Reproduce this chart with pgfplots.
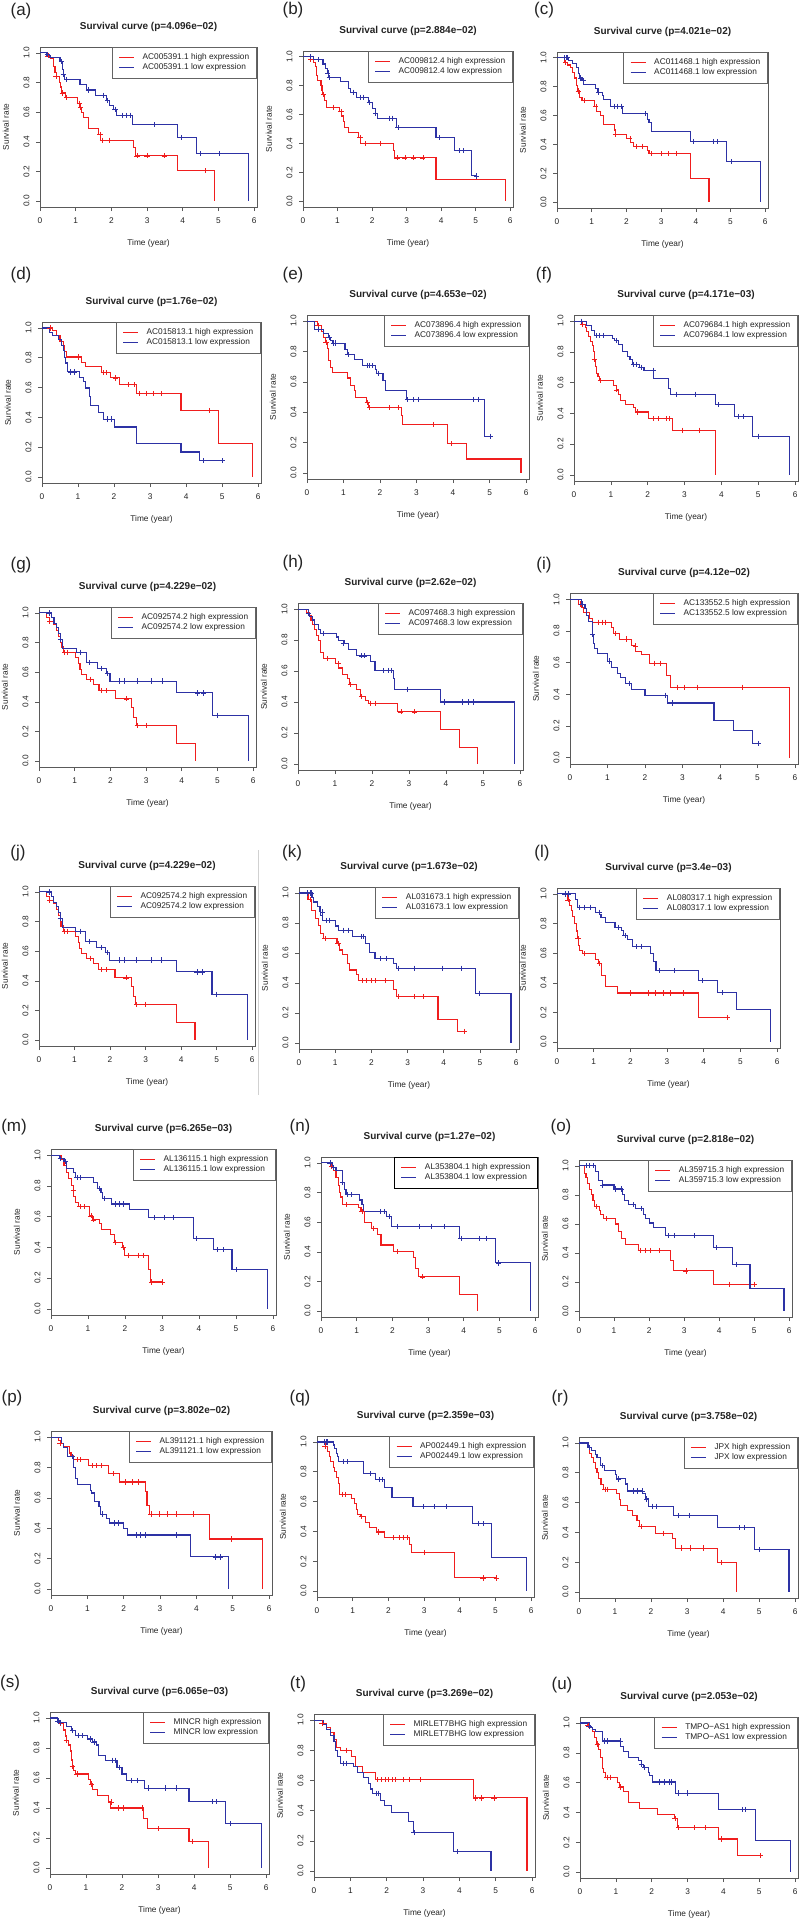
\documentclass[border=0pt]{standalone}
\usepackage{fontspec}
\setmainfont{Liberation Sans}
\usepackage{pgfplots}
\pgfplotsset{compat=1.18}
\definecolor{kmred}{RGB}{240,30,30}
\definecolor{kmblue}{RGB}{45,50,165}
\definecolor{txt}{RGB}{35,35,35}
\definecolor{framegray}{RGB}{90,90,90}
\definecolor{legendgray}{RGB}{100,100,100}
\pgfplotsset{
  km/.style={
    scale only axis, anchor=south west, clip=false,
    xmin=0, xmax=6.08, ymin=-0.04, ymax=1.04,
    xtick={0,1,2,3,4,5,6}, ytick={0,0.2,0.4,0.6,0.8,1.0},
    tick align=outside, tick pos=left, major tick length=4pt,
    axis line style={draw=framegray, line width=0.6pt},
    every tick/.style={draw=framegray, line width=0.6pt},
    /pgf/number format/assume math mode=true,
    tick label style={font=\fontsize{8.3}{9}\selectfont, text=txt},
    xticklabel shift=3pt, yticklabel shift=3pt,
    yticklabel style={rotate=90, anchor=south, /pgf/number format/.cd, fixed, fixed zerofill, precision=1},
    xlabel={Time (year)}, ylabel={Survival rate},
    every axis x label/.style={at={([yshift=-36pt]axis description cs:0.5,0)}, anchor=center, font=\fontsize{8.3}{9}\selectfont, text=txt},
    every axis y label/.style={at={([xshift=-34pt]axis description cs:0,0.5)}, rotate=90, anchor=center, font=\fontsize{8.3}{9}\selectfont, text=txt},
    every axis title/.style={at={([yshift=20pt]axis description cs:0.5,1)}, anchor=center, font=\bfseries\fontsize{10}{12}\selectfont, text=txt},
    legend cell align=left,
    legend style={at={(1,1)}, anchor=north east, draw=legendgray, line width=0.6pt, fill=white,
      font=\fontsize{8.3}{10}\selectfont, text=txt, inner xsep=6.5pt, inner ysep=5.5pt, row sep=0pt,
      nodes={inner sep=1pt, text height=6pt, text depth=1.8pt},
      /tikz/every odd column/.append style={column sep=7pt}},
  },
  hi/.style={const plot, draw=kmred, line width=1.1pt, mark=none,
    legend image code/.code={\draw[kmred, line width=1.1pt] (0pt,0pt) -- (15pt,0pt);}},
  lo/.style={const plot, draw=kmblue, line width=1.1pt, mark=none,
    legend image code/.code={\draw[kmblue, line width=1.1pt] (0pt,0pt) -- (15pt,0pt);}},
  hic/.style={only marks, mark=+, mark size=2.6pt, color=kmred, mark options={line width=0.7pt}, forget plot},
  loc/.style={only marks, mark=+, mark size=2.6pt, color=kmblue, mark options={line width=0.7pt}, forget plot},
}
\newcommand{\plab}[3]{\node[font=\fontsize{17}{17}\selectfont, text=txt] at (#1pt,-#2pt) {(#3)};}
\begin{document}
\begin{tikzpicture}
\useasboundingbox (0pt,0pt) rectangle (800pt,-1921pt);
\draw[black!18, line width=0.6pt] (258pt,-850pt) -- (258pt,-1095pt);
% ---------- row 1
\plab{21}{11}{a}\plab{293}{10}{b}\plab{544}{10}{c}
\begin{axis}[km, at={(40pt,-207pt)}, width=217pt, height=160pt, title={Survival curve (p=4.096e−02)}]
\addplot[hi] coordinates {(0,1) (0.22,0.98) (0.3,0.96) (0.37,0.91) (0.42,0.87) (0.45,0.84) (0.55,0.80) (0.57,0.77) (0.6,0.73) (0.72,0.70) (1.06,0.66) (1.12,0.63) (1.17,0.60) (1.22,0.565) (1.35,0.49) (1.65,0.45) (1.7,0.41) (2.62,0.36) (2.68,0.305) (3.85,0.205) (4.88,0)};
\addplot[lo] coordinates {(0,1) (0.19,0.98) (0.28,0.97) (0.56,0.94) (0.62,0.89) (0.65,0.855) (0.68,0.82) (1.12,0.785) (1.3,0.75) (1.55,0.715) (1.87,0.68) (1.95,0.645) (2.07,0.62) (2.15,0.58) (2.6,0.515) (3.85,0.43) (4.38,0.32) (5.84,0.32) (5.84,0)};
\addplot[hic] coordinates {(0.22,0.98) (0.45,0.84) (0.62,0.73) (0.75,0.70) (1.1,0.66) (1.14,0.63) (1.68,0.45) (1.75,0.41) (1.95,0.41) (2.72,0.305) (3.0,0.305) (3.48,0.305) (4.63,0.205)};
\addplot[loc] coordinates {(0.2,0.99) (0.6,0.94) (0.65,0.855) (0.75,0.82) (1.35,0.75) (1.78,0.715) (1.9,0.68) (2.1,0.62) (2.3,0.58) (2.42,0.58) (2.52,0.58) (3.2,0.515) (3.95,0.43) (4.5,0.32) (5.02,0.32)};
\legend{AC005391.1 high expression, AC005391.1 low expression}
\end{axis}
\begin{axis}[km, at={(303pt,-207pt)}, width=210pt, height=156pt, title={Survival curve (p=2.884e−02)}]
\addplot[hi] coordinates {(0,1) (0.22,0.98) (0.3,0.96) (0.35,0.93) (0.38,0.9) (0.4,0.87) (0.43,0.835) (0.52,0.8) (0.55,0.77) (0.57,0.74) (0.62,0.7) (0.68,0.65) (1.05,0.62) (1.12,0.59) (1.17,0.55) (1.2,0.51) (1.33,0.475) (1.6,0.44) (1.67,0.40) (2.61,0.35) (2.65,0.30) (3.85,0.15) (5.85,0)};
\addplot[lo] coordinates {(0,1) (0.3,0.98) (0.58,0.95) (0.65,0.92) (0.7,0.887) (0.75,0.857) (1.08,0.827) (1.32,0.78) (1.38,0.755) (1.55,0.72) (1.9,0.685) (2.0,0.645) (2.1,0.61) (2.15,0.575) (2.71,0.51) (3.85,0.44) (4.38,0.35) (4.87,0.175) (5.05,0.175)};
\addplot[hic] coordinates {(0.22,0.98) (0.6,0.74) (0.88,0.65) (1.1,0.62) (1.65,0.44) (1.8,0.40) (2.25,0.40) (2.72,0.30) (2.95,0.30) (3.2,0.30) (3.47,0.30)};
\addplot[loc] coordinates {(0.2,1.0) (0.45,0.98) (0.72,0.887) (0.76,0.857) (1.45,0.755) (1.65,0.72) (1.75,0.72) (1.92,0.685) (2.1,0.61) (2.5,0.575) (2.6,0.575) (2.75,0.51) (3.95,0.44) (4.52,0.35) (4.65,0.35) (5.02,0.175)};
\legend{AC009812.4 high expression, AC009812.4 low expression}
\end{axis}
\begin{axis}[km, at={(557pt,-208pt)}, width=211pt, height=156pt, title={Survival curve (p=4.021e−02)}]
\addplot[hi] coordinates {(0,1) (0.22,0.97) (0.3,0.95) (0.38,0.93) (0.45,0.9) (0.5,0.86) (0.55,0.81) (0.6,0.77) (0.65,0.727) (0.72,0.704) (1.08,0.665) (1.15,0.63) (1.25,0.60) (1.35,0.54) (1.65,0.50) (1.68,0.47) (2.0,0.44) (2.12,0.415) (2.2,0.388) (2.62,0.36) (2.65,0.335) (3.84,0.165) (4.38,0)};
\addplot[lo] coordinates {(0,1) (0.34,0.98) (0.45,0.96) (0.55,0.93) (0.62,0.89) (0.65,0.86) (0.72,0.843) (0.77,0.815) (1.12,0.785) (1.18,0.76) (1.3,0.74) (1.35,0.71) (1.55,0.665) (1.89,0.612) (2.61,0.57) (2.65,0.554) (2.72,0.492) (3.85,0.42) (4.88,0.28) (5.86,0)};
\addplot[hic] coordinates {(0.25,0.97) (0.62,0.77) (0.78,0.704) (1.12,0.665) (1.68,0.47) (2.1,0.44) (2.3,0.388) (2.45,0.388) (2.72,0.335) (3.0,0.335) (3.2,0.335) (3.45,0.335)};
\addplot[loc] coordinates {(0.2,1) (0.27,1) (0.3,1) (0.68,0.86) (0.75,0.843) (1.2,0.76) (1.65,0.665) (1.75,0.665) (1.85,0.665) (2.55,0.612) (3.92,0.42) (4.5,0.42) (4.62,0.42) (5.03,0.28)};
\legend{AC011468.1 high expression, AC011468.1 low expression}
\end{axis}
% ---------- row 2
\plab{21}{275}{d}\plab{293}{275}{e}\plab{544}{275}{f}
\begin{axis}[km, at={(42pt,-483pt)}, width=219pt, height=161pt, title={Survival curve (p=1.76e−02)}]
\addplot[hi] coordinates {(0,1) (0.3,0.98) (0.4,0.95) (0.5,0.91) (0.6,0.88) (0.63,0.845) (0.69,0.805) (1.09,0.77) (1.21,0.74) (1.64,0.70) (1.91,0.665) (2.14,0.62) (2.63,0.56) (3.86,0.447) (4.89,0.224) (5.84,0)};
\addplot[lo] coordinates {(0,1) (0.21,0.97) (0.3,0.95) (0.45,0.92) (0.55,0.88) (0.6,0.85) (0.62,0.80) (0.65,0.765) (0.7,0.705) (1.04,0.67) (1.15,0.64) (1.2,0.597) (1.33,0.54) (1.35,0.479) (1.57,0.435) (1.7,0.389) (2.01,0.336) (2.63,0.224) (3.86,0.168) (4.38,0.11) (5.02,0.11)};
\addplot[hic] coordinates {(0.22,1.0) (1.0,0.805) (1.7,0.70) (1.8,0.70) (2.05,0.665) (2.4,0.62) (2.55,0.62) (2.7,0.56) (2.9,0.56) (3.08,0.56) (3.3,0.56) (4.65,0.447)};
\addplot[loc] coordinates {(0.8,0.705) (0.9,0.705) (1.82,0.389) (1.92,0.389) (4.48,0.11) (5.0,0.11)};
\legend{AC015813.1 high expression, AC015813.1 low expression}
\end{axis}
\begin{axis}[km, at={(307pt,-479pt)}, width=222pt, height=164pt, title={Survival curve (p=4.653e−02)}]
\addplot[hi] coordinates {(0,1) (0.28,0.97) (0.4,0.93) (0.45,0.89) (0.5,0.86) (0.55,0.82) (0.6,0.74) (0.65,0.697) (0.7,0.664) (1.11,0.625) (1.2,0.576) (1.3,0.54) (1.32,0.499) (1.62,0.465) (1.68,0.429) (2.58,0.38) (2.62,0.319) (3.85,0.193) (4.38,0.092) (5.86,0.092) (5.86,0)};
\addplot[lo] coordinates {(0,1) (0.21,0.945) (0.45,0.917) (0.58,0.89) (0.65,0.87) (0.7,0.855) (1.04,0.81) (1.1,0.78) (1.3,0.745) (1.51,0.708) (1.87,0.68) (1.9,0.657) (2.08,0.609) (2.15,0.543) (2.72,0.484) (4.87,0.242) (5.02,0.242)};
\addplot[hic] coordinates {(0.3,0.97) (0.52,0.86) (1.65,0.465) (1.72,0.429) (2.25,0.429) (2.5,0.429) (3.45,0.319) (3.95,0.193)};
\addplot[loc] coordinates {(0.3,0.945) (0.6,0.89) (0.72,0.855) (0.78,0.855) (1.12,0.78) (1.65,0.708) (1.72,0.708) (1.78,0.708) (1.95,0.657) (2.75,0.484) (2.9,0.484) (3.05,0.484) (4.55,0.484) (4.68,0.484) (5.02,0.242)};
\legend{AC073896.4 high expression, AC073896.4 low expression}
\end{axis}
\begin{axis}[km, at={(574pt,-481pt)}, width=224pt, height=166pt, title={Survival curve (p=4.171e−03)}]
\addplot[hi] coordinates {(0,1) (0.22,0.98) (0.3,0.96) (0.35,0.93) (0.4,0.9) (0.45,0.865) (0.5,0.84) (0.52,0.8) (0.55,0.75) (0.58,0.703) (0.62,0.66) (0.65,0.639) (0.7,0.613) (1.08,0.58) (1.15,0.553) (1.2,0.52) (1.25,0.482) (1.4,0.46) (1.62,0.44) (1.68,0.409) (2.01,0.366) (2.67,0.29) (3.85,0.29) (3.85,0)};
\addplot[lo] coordinates {(0,1) (0.35,0.97) (0.48,0.94) (0.55,0.907) (1.04,0.89) (1.1,0.875) (1.2,0.85) (1.32,0.80) (1.45,0.77) (1.52,0.75) (1.58,0.72) (1.78,0.70) (1.9,0.68) (2.15,0.628) (2.56,0.56) (2.63,0.525) (3.85,0.456) (4.36,0.38) (4.85,0.252) (5.86,0.252) (5.86,0)};
\addplot[hic] coordinates {(0.22,0.98) (0.55,0.75) (0.72,0.613) (1.15,0.553) (1.72,0.409) (2.15,0.366) (2.3,0.366) (2.5,0.366) (2.58,0.366) (2.95,0.29) (3.4,0.29)};
\addplot[loc] coordinates {(0.2,1) (0.6,0.907) (0.7,0.907) (0.8,0.907) (1.15,0.875) (1.62,0.72) (1.7,0.72) (1.82,0.70) (2.15,0.68) (2.78,0.525) (3.3,0.525) (3.92,0.456) (4.45,0.38) (4.6,0.38) (5.0,0.252)};
\legend{AC079684.1 high expression, AC079684.1 low expression}
\end{axis}
% ---------- row 3
\plab{21}{565}{g}\plab{293}{563}{h}\plab{544}{565}{i}
\begin{axis}[km, at={(39pt,-767pt)}, width=217pt, height=160pt, title={Survival curve (p=4.229e−02)}]
\addplot[hi] coordinates {(0,1) (0.22,0.97) (0.29,0.94) (0.4,0.92) (0.48,0.88) (0.55,0.84) (0.6,0.8) (0.62,0.77) (0.68,0.735) (1.03,0.70) (1.1,0.66) (1.15,0.62) (1.2,0.582) (1.34,0.553) (1.53,0.515) (1.68,0.475) (2.14,0.42) (2.6,0.36) (2.66,0.293) (2.72,0.24) (3.86,0.12) (4.39,0)};
\addplot[lo] coordinates {(0,1) (0.35,0.97) (0.42,0.93) (0.5,0.9) (0.55,0.86) (0.6,0.82) (0.65,0.76) (1.04,0.735) (1.32,0.665) (1.63,0.625) (1.88,0.59) (1.99,0.54) (3.86,0.46) (4.87,0.31) (5.87,0)};
\addplot[hic] coordinates {(0.3,0.94) (0.72,0.735) (0.8,0.735) (1.45,0.553) (1.75,0.475) (1.9,0.475) (2.45,0.42) (2.75,0.24) (3.0,0.24)};
\addplot[loc] coordinates {(0.28,1) (0.6,0.82) (1.15,0.735) (1.42,0.665) (1.75,0.625) (1.92,0.59) (2.25,0.54) (2.4,0.54) (2.75,0.54) (3.15,0.54) (3.45,0.54) (4.45,0.46) (4.6,0.46) (5.0,0.31)};
\legend{AC092574.2 high expression, AC092574.2 low expression}
\end{axis}
\begin{axis}[km, at={(298pt,-770pt)}, width=225pt, height=167pt, title={Survival curve (p=2.62e−02)}]
\addplot[hi] coordinates {(0,1) (0.22,0.98) (0.3,0.96) (0.35,0.93) (0.4,0.9) (0.45,0.866) (0.5,0.83) (0.55,0.8) (0.6,0.76) (0.62,0.72) (0.68,0.68) (1.02,0.65) (1.1,0.62) (1.2,0.575) (1.34,0.55) (1.38,0.511) (1.59,0.48) (1.68,0.435) (1.82,0.41) (1.9,0.392) (2.7,0.336) (3.84,0.224) (4.36,0.108) (4.86,0)};
\addplot[lo] coordinates {(0,1) (0.28,0.97) (0.32,0.95) (0.38,0.93) (0.45,0.9) (0.55,0.87) (0.62,0.845) (1.04,0.82) (1.1,0.80) (1.25,0.78) (1.36,0.741) (1.57,0.698) (1.97,0.662) (2.08,0.603) (2.58,0.55) (2.6,0.483) (3.84,0.40) (5.86,0.40) (5.86,0)};
\addplot[hic] coordinates {(0.8,0.68) (1.08,0.65) (1.42,0.511) (1.72,0.435) (1.95,0.392) (2.1,0.392) (2.78,0.336) (3.15,0.336)};
\addplot[loc] coordinates {(0.28,0.97) (0.68,0.845) (1.22,0.78) (1.72,0.698) (1.8,0.698) (2.3,0.603) (2.45,0.603) (2.52,0.603) (2.95,0.483) (3.95,0.40) (4.45,0.40) (4.6,0.40) (4.75,0.40)};
\legend{AC097468.3 high expression, AC097468.3 low expression}
\end{axis}
\begin{axis}[km, at={(570pt,-764pt)}, width=228pt, height=171pt, title={Survival curve (p=4.12e−02)}]
\addplot[hi] coordinates {(0,1) (0.22,0.97) (0.3,0.95) (0.35,0.915) (0.52,0.88) (0.6,0.855) (1.1,0.82) (1.15,0.785) (1.32,0.749) (1.64,0.706) (1.75,0.67) (1.9,0.653) (2.12,0.596) (2.58,0.519) (2.68,0.445) (5.86,0.445) (5.86,0)};
\addplot[lo] coordinates {(0,1) (0.3,0.97) (0.4,0.94) (0.45,0.9) (0.5,0.86) (0.59,0.78) (0.62,0.72) (0.66,0.689) (0.73,0.657) (1.0,0.61) (1.1,0.57) (1.27,0.53) (1.35,0.508) (1.48,0.468) (1.64,0.428) (2.0,0.394) (2.6,0.345) (3.84,0.232) (4.37,0.174) (4.86,0.089) (5.02,0.089)};
\addplot[hic] coordinates {(0.28,0.97) (0.75,0.855) (0.85,0.855) (0.95,0.855) (1.22,0.785) (1.5,0.749) (1.75,0.706) (2.25,0.596) (2.42,0.596) (2.85,0.445) (3.05,0.445) (3.4,0.445) (4.6,0.445)};
\addplot[loc] coordinates {(0.32,0.97) (0.6,0.78) (1.05,0.61) (1.58,0.468) (2.55,0.394) (2.72,0.345) (5.02,0.089)};
\legend{AC133552.5 high expression, AC133552.5 low expression}
\end{axis}
% ---------- row 4
\plab{18}{853}{j}\plab{292}{853}{k}\plab{542}{853}{l}
\begin{axis}[km, at={(39pt,-1046pt)}, width=216pt, height=160pt, title={Survival curve (p=4.229e−02)}]
\addplot[hi] coordinates {(0,1) (0.22,0.97) (0.29,0.94) (0.4,0.92) (0.48,0.88) (0.55,0.84) (0.6,0.8) (0.62,0.77) (0.68,0.735) (1.03,0.70) (1.1,0.66) (1.15,0.62) (1.2,0.582) (1.34,0.553) (1.53,0.515) (1.68,0.475) (2.14,0.42) (2.6,0.36) (2.66,0.293) (2.72,0.24) (3.86,0.12) (4.39,0)};
\addplot[lo] coordinates {(0,1) (0.35,0.97) (0.42,0.93) (0.5,0.9) (0.55,0.86) (0.6,0.82) (0.65,0.76) (1.04,0.735) (1.32,0.665) (1.63,0.625) (1.88,0.59) (1.99,0.54) (3.86,0.46) (4.87,0.31) (5.87,0)};
\addplot[hic] coordinates {(0.3,0.94) (0.72,0.735) (0.8,0.735) (1.45,0.553) (1.75,0.475) (1.9,0.475) (2.45,0.42) (2.75,0.24) (3.0,0.24)};
\addplot[loc] coordinates {(0.28,1) (0.6,0.82) (1.15,0.735) (1.42,0.665) (1.75,0.625) (1.92,0.59) (2.25,0.54) (2.4,0.54) (2.75,0.54) (3.15,0.54) (3.45,0.54) (4.45,0.46) (4.6,0.46) (5.0,0.31)};
\legend{AC092574.2 high expression, AC092574.2 low expression}
\end{axis}
\begin{axis}[km, at={(299pt,-1049pt)}, width=220pt, height=162pt, title={Survival curve (p=1.673e−02)}]
\addplot[hi] coordinates {(0,1) (0.25,0.956) (0.35,0.885) (0.46,0.83) (0.55,0.785) (0.6,0.73) (0.67,0.697) (1.05,0.664) (1.12,0.62) (1.19,0.593) (1.34,0.53) (1.39,0.487) (1.59,0.455) (1.65,0.416) (2.62,0.358) (2.7,0.31) (3.84,0.155) (4.38,0.077) (4.6,0.077)};
\addplot[lo] coordinates {(0,1) (0.36,0.97) (0.4,0.94) (0.5,0.91) (0.58,0.874) (0.6,0.85) (0.65,0.818) (1.02,0.78) (1.1,0.752) (1.49,0.708) (1.83,0.664) (1.95,0.602) (2.1,0.564) (2.62,0.53) (2.7,0.498) (4.89,0.332) (5.86,0.332) (5.86,0)};
\addplot[hic] coordinates {(0.3,0.956) (0.72,0.697) (1.08,0.664) (1.75,0.416) (1.85,0.416) (2.0,0.416) (2.1,0.416) (2.4,0.416) (2.75,0.31) (3.2,0.31) (3.45,0.31) (4.58,0.077)};
\addplot[loc] coordinates {(0.22,1) (0.3,1) (0.35,1) (0.65,0.874) (0.75,0.818) (0.85,0.818) (1.22,0.752) (1.35,0.752) (1.72,0.708) (1.78,0.708) (2.25,0.564) (2.42,0.564) (2.75,0.498) (3.2,0.498) (3.95,0.498) (4.5,0.498) (4.98,0.332)};
\legend{AL031673.1 high expression, AL031673.1 low expression}
\end{axis}
\begin{axis}[km, at={(557pt,-1048pt)}, width=223pt, height=160pt, title={Survival curve (p=3.4e−03)}]
\addplot[hi] coordinates {(0,1) (0.29,0.96) (0.35,0.92) (0.4,0.888) (0.42,0.85) (0.48,0.8) (0.52,0.75) (0.55,0.698) (0.58,0.65) (0.62,0.62) (0.69,0.597) (1.06,0.56) (1.12,0.53) (1.22,0.452) (1.33,0.378) (1.66,0.331) (3.85,0.166) (4.65,0.166)};
\addplot[lo] coordinates {(0,1) (0.5,0.96) (0.57,0.91) (1.05,0.877) (1.15,0.86) (1.2,0.84) (1.31,0.81) (1.58,0.776) (1.75,0.755) (1.81,0.72) (1.92,0.691) (2.05,0.646) (2.55,0.6) (2.62,0.541) (2.7,0.481) (3.85,0.414) (4.38,0.333) (4.9,0.221) (5.83,0.221) (5.83,0)};
\addplot[hic] coordinates {(0.3,0.96) (0.57,0.698) (0.75,0.597) (1.15,0.53) (2.0,0.331) (2.5,0.331) (2.68,0.331) (2.9,0.331) (3.1,0.331) (3.45,0.331) (4.65,0.166)};
\addplot[loc] coordinates {(0.22,1) (0.3,1) (0.62,0.91) (0.75,0.91) (0.9,0.91) (1.15,0.877) (1.68,0.776) (1.85,0.72) (2.15,0.646) (2.3,0.646) (2.78,0.481) (3.2,0.481) (3.95,0.414) (4.5,0.333)};
\legend{AL080317.1 high expression, AL080317.1 low expression}
\end{axis}
% ---------- row 5
\plab{14}{1127}{m}\plab{300}{1127}{n}\plab{561}{1127}{o}
\begin{axis}[km, at={(51pt,-1315pt)}, width=225pt, height=166pt, title={Survival curve (p=6.265e−03)}]
\addplot[hi] coordinates {(0,1) (0.28,0.97) (0.35,0.93) (0.42,0.89) (0.48,0.85) (0.55,0.8) (0.6,0.773) (0.62,0.73) (0.67,0.691) (0.75,0.665) (1.04,0.605) (1.12,0.579) (1.32,0.555) (1.37,0.518) (1.6,0.482) (1.72,0.434) (1.92,0.40) (1.99,0.348) (2.64,0.259) (2.68,0.175) (3.0,0.175)};
\addplot[lo] coordinates {(0,1) (0.22,0.98) (0.35,0.96) (0.42,0.914) (0.6,0.89) (0.65,0.853) (1.15,0.82) (1.25,0.784) (1.35,0.755) (1.39,0.719) (1.64,0.682) (2.11,0.644) (2.64,0.594) (3.85,0.46) (4.38,0.384) (4.89,0.255) (5.86,0.255) (5.86,0)};
\addplot[hic] coordinates {(0.6,0.773) (0.78,0.665) (0.9,0.665) (1.08,0.605) (1.15,0.579) (1.75,0.434) (1.95,0.40) (2.1,0.348) (2.35,0.348) (2.5,0.348) (2.72,0.175) (3.0,0.175)};
\addplot[loc] coordinates {(0.25,0.98) (0.4,0.96) (0.7,0.853) (0.8,0.853) (1.3,0.784) (1.45,0.719) (1.75,0.682) (1.85,0.682) (1.95,0.682) (2.78,0.594) (3.05,0.594) (3.3,0.594) (3.92,0.46) (4.5,0.384) (4.65,0.384) (5.02,0.255)};
\legend{AL136115.1 high expression, AL136115.1 low expression}
\end{axis}
\begin{axis}[km, at={(321pt,-1317pt)}, width=217pt, height=160pt, title={Survival curve (p=1.27e−02)}, legend style={draw=black}]
\addplot[hi] coordinates {(0,1) (0.28,0.98) (0.35,0.95) (0.42,0.9) (0.48,0.85) (0.52,0.8) (0.55,0.77) (0.6,0.719) (1.04,0.7) (1.12,0.67) (1.21,0.60) (1.42,0.56) (1.58,0.516) (1.68,0.446) (2.04,0.402) (2.59,0.36) (2.65,0.29) (2.72,0.231) (3.87,0.114) (4.39,0.114) (4.39,0)};
\addplot[lo] coordinates {(0,1) (0.32,0.97) (0.42,0.952) (0.6,0.868) (0.65,0.82) (0.7,0.785) (1.08,0.75) (1.15,0.72) (1.2,0.67) (1.84,0.64) (1.97,0.571) (3.87,0.49) (4.88,0.325) (5.86,0.325) (5.86,0)};
\addplot[hic] coordinates {(0.3,0.98) (0.7,0.719) (1.15,0.67) (1.48,0.56) (2.15,0.402) (2.85,0.231)};
\addplot[loc] coordinates {(0.25,1) (0.35,0.97) (0.6,0.868) (0.75,0.785) (0.85,0.785) (1.65,0.67) (1.78,0.67) (1.92,0.64) (2.15,0.571) (2.75,0.571) (3.1,0.571) (3.45,0.571) (3.92,0.49) (4.45,0.49) (4.62,0.49) (4.98,0.325)};
\legend{AL353804.1 high expression, AL353804.1 low expression}
\end{axis}
\begin{axis}[km, at={(579pt,-1317pt)}, width=213pt, height=157pt, title={Survival curve (p=2.818e−02)}]
\addplot[hi] coordinates {(0,1) (0.15,0.95) (0.2,0.92) (0.25,0.88) (0.3,0.84) (0.35,0.8) (0.4,0.76) (0.45,0.72) (0.58,0.69) (0.62,0.664) (0.71,0.636) (1.03,0.6) (1.12,0.55) (1.21,0.498) (1.32,0.459) (1.69,0.418) (2.62,0.35) (2.69,0.277) (3.85,0.186) (5.05,0.186)};
\addplot[lo] coordinates {(0,1) (0.48,0.96) (0.55,0.902) (0.66,0.868) (1.0,0.841) (1.25,0.8) (1.3,0.76) (1.4,0.732) (1.6,0.705) (1.84,0.664) (1.9,0.64) (2.01,0.607) (2.12,0.573) (2.47,0.52) (3.85,0.436) (4.38,0.323) (4.88,0.159) (5.85,0.159) (5.85,0)};
\addplot[hic] coordinates {(0.5,0.72) (0.78,0.636) (1.75,0.418) (1.9,0.418) (2.05,0.418) (2.3,0.418) (3.05,0.277) (4.3,0.186) (5.0,0.186)};
\addplot[loc] coordinates {(0.2,1) (0.3,1) (0.42,1) (0.68,0.868) (1.05,0.841) (1.2,0.841) (1.55,0.732) (1.78,0.705) (2.55,0.52) (2.72,0.52) (3.3,0.52) (3.92,0.436) (4.5,0.323)};
\legend{AL359715.3 high expression, AL359715.3 low expression}
\end{axis}
% ---------- row 6
\plab{12}{1398}{p}\plab{300}{1398}{q}\plab{560}{1398}{r}
\begin{axis}[km, at={(51pt,-1595pt)}, width=221pt, height=164pt, title={Survival curve (p=3.802e−02)}]
\addplot[hi] coordinates {(0,1) (0.2,0.98) (0.3,0.96) (0.35,0.94) (0.5,0.895) (0.55,0.88) (0.63,0.851) (1.04,0.811) (1.58,0.759) (1.89,0.704) (2.6,0.643) (2.64,0.55) (2.71,0.493) (4.36,0.329) (5.83,0.329) (5.83,0)};
\addplot[lo] coordinates {(0,1) (0.28,0.96) (0.35,0.93) (0.45,0.873) (0.62,0.8) (0.68,0.73) (0.72,0.686) (1.09,0.65) (1.12,0.632) (1.19,0.577) (1.32,0.54) (1.35,0.493) (1.52,0.465) (1.6,0.434) (1.99,0.401) (2.1,0.355) (3.84,0.211) (4.89,0.211) (4.89,0)};
\addplot[hic] coordinates {(0.25,0.96) (0.72,0.851) (0.8,0.851) (1.15,0.811) (1.25,0.811) (1.38,0.811) (1.72,0.759) (2.05,0.704) (2.25,0.704) (2.4,0.704) (2.75,0.493) (2.98,0.493) (3.2,0.493) (3.45,0.493) (3.92,0.493) (4.95,0.329)};
\addplot[loc] coordinates {(0.6,0.873) (1.42,0.493) (1.75,0.434) (1.85,0.434) (2.35,0.355) (2.45,0.355) (2.6,0.355) (3.45,0.355) (4.52,0.211) (4.65,0.211)};
\legend{AL391121.1 high expression, AL391121.1 low expression}
\end{axis}
\begin{axis}[km, at={(317pt,-1597pt)}, width=217pt, height=161pt, title={Survival curve (p=2.359e−03)}]
\addplot[hi] coordinates {(0,1) (0.25,0.97) (0.3,0.938) (0.35,0.9) (0.38,0.87) (0.45,0.829) (0.5,0.8) (0.55,0.76) (0.6,0.72) (0.62,0.681) (0.64,0.648) (0.97,0.62) (1.05,0.587) (1.1,0.55) (1.14,0.516) (1.21,0.501) (1.36,0.462) (1.46,0.429) (1.67,0.396) (1.89,0.358) (2.6,0.31) (2.64,0.259) (3.86,0.088) (5.05,0.088)};
\addplot[lo] coordinates {(0,1) (0.45,0.98) (0.48,0.956) (0.55,0.92) (0.58,0.9) (0.61,0.868) (1.3,0.787) (1.64,0.747) (1.89,0.692) (2.1,0.626) (2.69,0.565) (4.36,0.451) (4.89,0.224) (5.86,0.224) (5.86,0)};
\addplot[hic] coordinates {(0.22,0.97) (0.72,0.648) (0.8,0.648) (1.25,0.501) (1.72,0.396) (2.15,0.358) (2.3,0.358) (2.42,0.358) (2.52,0.358) (3.0,0.259) (4.65,0.088) (5.02,0.088)};
\addplot[loc] coordinates {(0.2,1) (0.25,1) (0.3,1) (0.75,0.868) (0.85,0.868) (1.5,0.787) (1.75,0.747) (1.82,0.747) (2.98,0.565) (3.3,0.565) (3.62,0.565) (4.52,0.451) (4.65,0.451)};
\legend{AP002449.1 high expression, AP002449.1 low expression}
\end{axis}
\begin{axis}[km, at={(579pt,-1598pt)}, width=219pt, height=161pt, title={Survival curve (p=3.758e−02)}]
\addplot[hi] coordinates {(0,1) (0.25,0.97) (0.3,0.93) (0.35,0.9) (0.4,0.87) (0.45,0.83) (0.5,0.8) (0.55,0.76) (0.61,0.722) (0.68,0.689) (1.05,0.66) (1.12,0.62) (1.16,0.58) (1.34,0.547) (1.48,0.514) (1.61,0.48) (1.68,0.438) (2.12,0.394) (2.6,0.357) (2.69,0.295) (3.85,0.197) (4.37,0.197) (4.37,0)};
\addplot[lo] coordinates {(0,1) (0.25,0.97) (0.35,0.95) (0.45,0.92) (0.5,0.9) (0.6,0.847) (0.72,0.816) (1.02,0.79) (1.05,0.759) (1.3,0.725) (1.35,0.678) (1.77,0.66) (1.85,0.624) (1.94,0.575) (2.62,0.514) (3.85,0.431) (4.88,0.284) (5.83,0.284) (5.83,0)};
\addplot[hic] coordinates {(0.72,0.689) (0.8,0.689) (1.72,0.438) (2.35,0.394) (2.85,0.295) (3.1,0.295) (3.45,0.295) (3.95,0.197)};
\addplot[loc] coordinates {(0.3,0.97) (0.65,0.847) (1.1,0.759) (1.52,0.678) (1.62,0.678) (1.75,0.678) (1.88,0.624) (2.05,0.575) (2.15,0.575) (2.75,0.514) (3.05,0.514) (4.45,0.431) (4.6,0.431) (5.02,0.284)};
\legend{JPX high expression, JPX low expression}
\end{axis}
% ---------- row 7
\plab{10}{1683}{s}\plab{298}{1684}{t}\plab{562}{1685}{u}
\begin{axis}[km, at={(50pt,-1874pt)}, width=219pt, height=162pt, title={Survival curve (p=6.065e−03)}]
\addplot[hi] coordinates {(0,1) (0.2,0.98) (0.3,0.962) (0.38,0.92) (0.42,0.88) (0.47,0.851) (0.52,0.82) (0.56,0.78) (0.6,0.72) (0.63,0.68) (0.65,0.649) (0.72,0.627) (1.08,0.59) (1.12,0.56) (1.19,0.522) (1.33,0.482) (1.63,0.44) (1.67,0.40) (2.6,0.329) (2.7,0.262) (3.86,0.178) (4.39,0.178) (4.39,0)};
\addplot[lo] coordinates {(0,1) (0.2,0.98) (0.3,0.97) (0.45,0.944) (0.6,0.915) (0.72,0.884) (1.05,0.86) (1.19,0.84) (1.28,0.82) (1.35,0.749) (1.54,0.718) (1.86,0.671) (2.0,0.627) (2.12,0.584) (2.63,0.533) (3.86,0.442) (4.88,0.296) (5.86,0.296) (5.86,0)};
\addplot[hic] coordinates {(0.22,0.98) (0.3,0.962) (0.45,0.851) (0.62,0.68) (0.75,0.627) (1.15,0.56) (1.7,0.44) (1.9,0.40) (2.05,0.40) (2.55,0.40) (3.0,0.262) (3.95,0.178)};
\addplot[loc] coordinates {(0.22,0.98) (0.28,0.97) (0.62,0.915) (0.8,0.884) (0.9,0.884) (1.12,0.86) (1.22,0.84) (1.72,0.718) (1.82,0.718) (1.92,0.671) (2.25,0.584) (2.42,0.584) (2.72,0.533) (3.2,0.533) (3.5,0.533) (4.52,0.442) (4.62,0.442) (5.02,0.296)};
\legend{MINCR high expression, MINCR low expression}
\end{axis}
\begin{axis}[km, at={(314pt,-1877pt)}, width=221pt, height=163pt, title={Survival curve (p=3.269e−02)}]
\addplot[hi] coordinates {(0,1) (0.25,0.98) (0.35,0.95) (0.45,0.92) (0.55,0.87) (0.62,0.82) (0.72,0.8) (1.03,0.76) (1.13,0.692) (1.34,0.653) (1.69,0.604) (4.38,0.484) (5.86,0.484) (5.86,0)};
\addplot[lo] coordinates {(0,1) (0.25,0.97) (0.35,0.94) (0.45,0.9) (0.55,0.86) (0.6,0.8) (0.65,0.76) (0.72,0.714) (1.09,0.69) (1.2,0.653) (1.37,0.62) (1.51,0.58) (1.55,0.543) (1.6,0.516) (1.84,0.466) (1.94,0.433) (2.12,0.385) (2.61,0.33) (2.73,0.253) (3.84,0.13) (4.87,0.13) (4.87,0)};
\addplot[hic] coordinates {(0.22,0.98) (0.9,0.8) (1.75,0.604) (1.85,0.604) (1.95,0.604) (2.05,0.604) (2.15,0.604) (2.25,0.604) (2.45,0.604) (2.62,0.604) (2.92,0.604) (4.45,0.484) (4.6,0.484) (4.95,0.484)};
\addplot[loc] coordinates {(0.8,0.714) (0.9,0.714) (1.72,0.516) (1.78,0.516) (2.75,0.253) (3.95,0.13)};
\legend{MIRLET7BHG high expression, MIRLET7BHG low expression}
\end{axis}
\begin{axis}[km, at={(580pt,-1878pt)}, width=218pt, height=161pt, title={Survival curve (p=2.053e−02)}]
\addplot[hi] coordinates {(0,1) (0.22,0.985) (0.3,0.97) (0.35,0.941) (0.4,0.9) (0.45,0.859) (0.52,0.82) (0.56,0.77) (0.62,0.692) (0.65,0.67) (0.71,0.637) (1.04,0.6) (1.1,0.571) (1.21,0.541) (1.34,0.5) (1.36,0.468) (1.66,0.429) (2.15,0.385) (2.63,0.36) (2.71,0.297) (3.85,0.222) (4.38,0.11) (5.05,0.11)};
\addplot[lo] coordinates {(0,1) (0.25,0.98) (0.3,0.97) (0.35,0.955) (0.42,0.941) (0.62,0.879) (1.13,0.845) (1.21,0.809) (1.36,0.769) (1.62,0.747) (1.72,0.72) (1.78,0.703) (1.9,0.67) (1.95,0.648) (2.01,0.604) (2.66,0.53) (3.85,0.42) (4.89,0.209) (5.88,0.209) (5.88,0)};
\addplot[hic] coordinates {(0.22,0.985) (0.48,0.859) (0.75,0.637) (0.85,0.637) (1.12,0.571) (2.65,0.36) (2.75,0.297) (3.2,0.297) (3.5,0.297) (3.95,0.222) (5.02,0.11)};
\addplot[loc] coordinates {(0.25,0.98) (0.68,0.879) (0.75,0.879) (1.12,0.879) (1.72,0.72) (1.8,0.703) (2.2,0.604) (2.35,0.604) (2.48,0.604) (2.55,0.604) (2.75,0.53) (3.0,0.53) (4.52,0.42) (4.62,0.42)};
\legend{TMPO−AS1 high expression, TMPO−AS1 low expression}
\end{axis}
\end{tikzpicture}
\end{document}
